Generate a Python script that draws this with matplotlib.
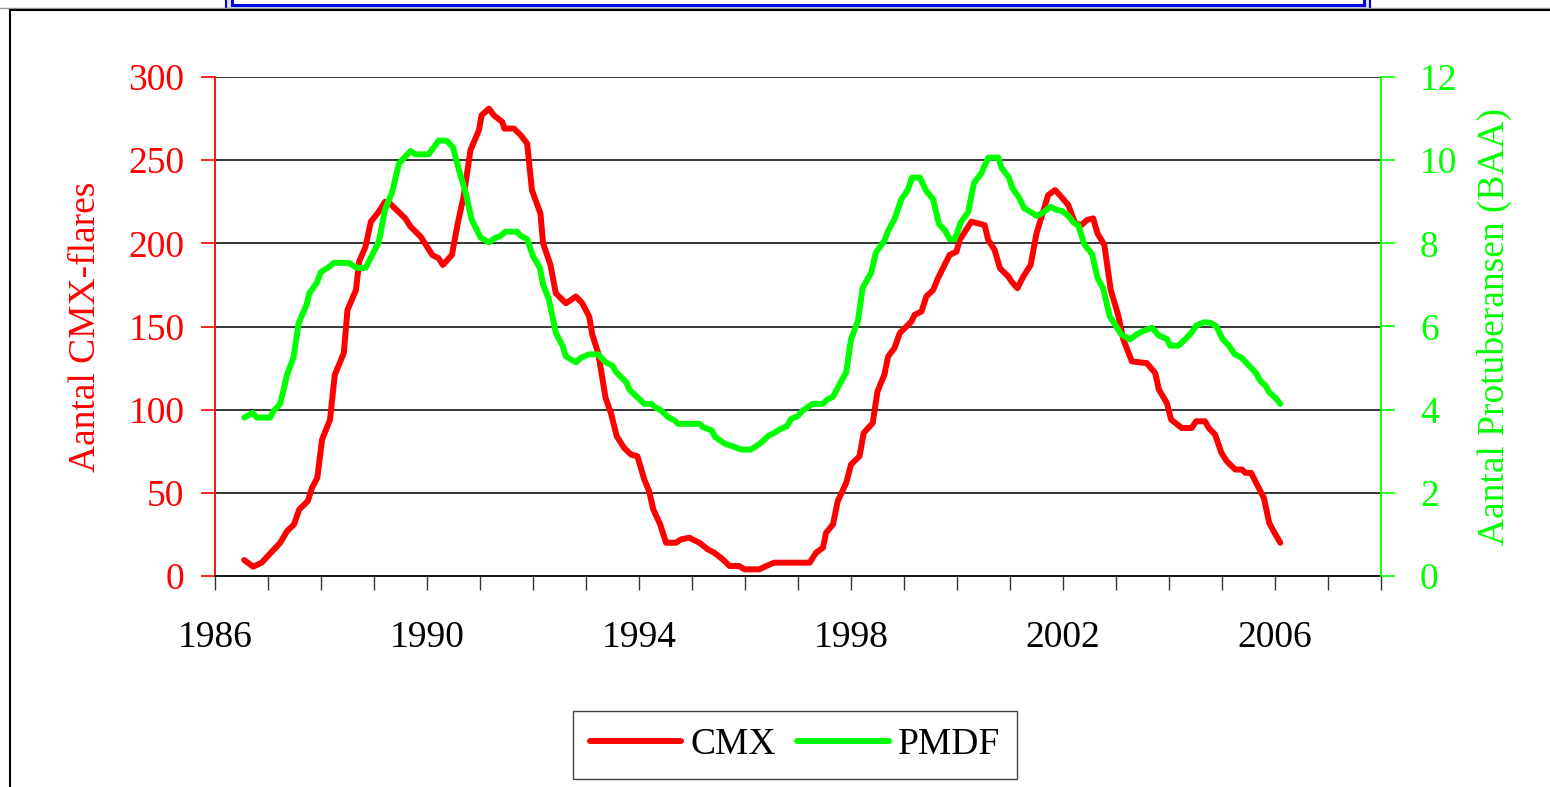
import matplotlib.pyplot as plt
from matplotlib.patches import Rectangle
from matplotlib.lines import Line2D

plt.rcParams['font.family'] = ['Liberation Serif', 'DejaVu Serif']

# CMX flares (left axis)
cmx_year = [1986.55, 1986.72, 1986.88, 1987.23, 1987.36, 1987.49, 1987.59, 1987.75, 1987.83, 1987.93,
            1988.02, 1988.17, 1988.26, 1988.43, 1988.50, 1988.66, 1988.72, 1988.84, 1988.94, 1989.09,
            1989.21, 1989.30, 1989.59, 1989.69, 1989.88, 1990.10, 1990.22, 1990.30, 1990.47, 1990.58,
            1990.69, 1990.82, 1990.98, 1991.03, 1991.17, 1991.26, 1991.42, 1991.46, 1991.64, 1991.77,
            1991.89, 1991.98, 1992.14, 1992.19, 1992.33, 1992.43, 1992.62, 1992.81, 1992.93, 1993.06,
            1993.12, 1993.23, 1993.37, 1993.47, 1993.58, 1993.72, 1993.85, 1993.97, 1994.10, 1994.19,
            1994.27, 1994.40, 1994.51, 1994.70, 1994.79, 1994.95, 1995.14, 1995.30, 1995.42, 1995.58,
            1995.71, 1995.89, 1995.99, 1996.27, 1996.40, 1996.55, 1997.22, 1997.34, 1997.47, 1997.53,
            1997.66, 1997.75, 1997.91, 1998.00, 1998.16, 1998.24, 1998.41, 1998.50, 1998.63, 1998.70,
            1998.82, 1998.92, 1999.14, 1999.20, 1999.33, 1999.42, 1999.55, 1999.64, 1999.86, 1999.99,
            2000.05, 2000.27, 2000.52, 2000.59, 2000.71, 2000.81, 2000.97, 2001.03, 2001.14, 2001.25,
            2001.39, 2001.50, 2001.72, 2001.85, 2001.94, 2002.10, 2002.23, 2002.35, 2002.45, 2002.57,
            2002.65, 2002.78, 2002.90, 2003.04, 2003.14, 2003.30, 2003.58, 2003.74, 2003.81, 2003.96,
            2004.04, 2004.24, 2004.43, 2004.51, 2004.68, 2004.75, 2004.87, 2004.99, 2005.09, 2005.25,
            2005.38, 2005.44, 2005.55, 2005.66, 2005.79, 2005.89, 2005.99, 2006.10]
cmx_val = [9.6, 5.6, 8, 20, 27, 31, 40, 45, 53, 59,
           82, 94, 121, 134, 160, 172, 189, 198, 213, 219,
           225, 224, 215, 210, 204, 193, 191, 187, 193, 212,
           228, 256, 268, 277, 281, 277, 273, 269, 269, 265,
           260, 232, 218, 200, 187, 170, 164, 168, 164, 156,
           145, 134, 107, 98, 84, 77, 73, 72, 58, 51,
           40, 31, 20, 20, 22, 23, 20, 16, 14, 10,
           6, 6, 4, 4, 6, 8, 8, 14, 17, 26,
           31, 45, 56, 67, 72, 86, 92, 111, 121, 132,
           137, 146, 153, 157, 159, 168, 172, 179, 193, 195,
           202, 213, 211, 202, 196, 185, 180, 177, 173, 180,
           187, 206, 229, 232, 229, 223, 212, 211, 214, 215,
           206, 199, 172, 157, 142, 129, 128, 122, 112, 104,
           94, 89, 89, 93, 93, 89, 85, 74, 69, 64,
           64, 62, 62, 55, 47, 32, 26, 20]

# PMDF prominences (right axis)
pmdf_year = [1986.55, 1986.71, 1986.79, 1987.04, 1987.10, 1987.23, 1987.36, 1987.48, 1987.58, 1987.73,
             1987.78, 1987.92, 1988.00, 1988.17, 1988.24, 1988.52, 1988.68, 1988.84, 1989.09, 1989.21,
             1989.34, 1989.47, 1989.69, 1989.78, 1990.03, 1990.22, 1990.37, 1990.49, 1990.60, 1990.73,
             1990.84, 1991.01, 1991.17, 1991.26, 1991.39, 1991.48, 1991.70, 1991.77, 1991.89, 1992.00,
             1992.13, 1992.19, 1992.30, 1992.43, 1992.56, 1992.62, 1992.81, 1992.91, 1993.06, 1993.23,
             1993.37, 1993.50, 1993.57, 1993.76, 1993.82, 1994.10, 1994.23, 1994.33, 1994.42, 1994.55,
             1994.67, 1994.74, 1995.14, 1995.21, 1995.37, 1995.44, 1995.62, 1995.77, 1995.93, 1996.11,
             1996.22, 1996.31, 1996.44, 1996.56, 1996.66, 1996.79, 1996.87, 1996.99, 1997.09, 1997.28,
             1997.47, 1997.55, 1997.66, 1997.78, 1997.91, 1998.00, 1998.13, 1998.22, 1998.38, 1998.47,
             1998.63, 1998.70, 1998.82, 1998.95, 1999.07, 1999.15, 1999.30, 1999.42, 1999.55, 1999.66,
             1999.78, 1999.86, 1999.96, 2000.07, 2000.21, 2000.32, 2000.46, 2000.59, 2000.78, 2000.84,
             2000.98, 2001.04, 2001.17, 2001.27, 2001.41, 2001.50, 2001.63, 2001.76, 2001.89, 2001.98,
             2002.10, 2002.20, 2002.29, 2002.40, 2002.55, 2002.65, 2002.76, 2002.88, 2003.01, 2003.10,
             2003.26, 2003.39, 2003.51, 2003.68, 2003.81, 2003.96, 2004.02, 2004.18, 2004.31, 2004.43,
             2004.51, 2004.66, 2004.78, 2004.89, 2005.01, 2005.13, 2005.24, 2005.37, 2005.51, 2005.64,
             2005.73, 2005.82, 2005.89, 2006.01, 2006.10]
pmdf_val = [3.81, 3.92, 3.81, 3.81, 3.96, 4.14, 4.84, 5.25, 6.09, 6.53,
            6.80, 7.05, 7.31, 7.45, 7.53, 7.53, 7.41, 7.41, 8.03, 8.82,
            9.22, 9.92, 10.22, 10.14, 10.14, 10.47, 10.47, 10.31, 9.78, 9.22,
            8.58, 8.14, 8.02, 8.11, 8.18, 8.28, 8.28, 8.18, 8.10, 7.69,
            7.41, 7.01, 6.65, 5.85, 5.53, 5.28, 5.14, 5.25, 5.33, 5.33,
            5.14, 5.06, 4.90, 4.66, 4.48, 4.14, 4.14, 4.04, 3.98, 3.82,
            3.74, 3.66, 3.66, 3.58, 3.50, 3.34, 3.18, 3.12, 3.04, 3.04,
            3.13, 3.21, 3.37, 3.45, 3.53, 3.60, 3.78, 3.84, 3.98, 4.14,
            4.14, 4.24, 4.31, 4.60, 4.90, 5.69, 6.13, 6.93, 7.29, 7.78,
            8.06, 8.30, 8.58, 9.06, 9.28, 9.58, 9.58, 9.26, 9.06, 8.46,
            8.30, 8.10, 8.10, 8.50, 8.75, 9.45, 9.69, 10.06, 10.06, 9.82,
            9.58, 9.34, 9.10, 8.84, 8.74, 8.66, 8.74, 8.88, 8.80, 8.78,
            8.66, 8.50, 8.43, 7.98, 7.74, 7.17, 6.91, 6.25, 5.99, 5.81,
            5.69, 5.81, 5.89, 5.97, 5.78, 5.70, 5.54, 5.54, 5.70, 5.86,
            6.02, 6.10, 6.09, 6.01, 5.70, 5.54, 5.33, 5.25, 5.06, 4.88,
            4.68, 4.58, 4.42, 4.28, 4.14]

left_ticks = [0, 50, 100, 150, 200, 250, 300]
right_ticks = [0, 2, 4, 6, 8, 10, 12]
year_labels = [1986, 1990, 1994, 1998, 2002, 2006]

W, H = 1550, 787
fig = plt.figure(figsize=(W / 100, H / 100), dpi=100)
ax = fig.add_axes([215 / W, 1 - 576 / H, (1381 - 215) / W, (576 - 77) / H])
ax2 = ax.twinx()

FS = 27
red = '#FF0000'
green = '#00FF00'

l1, = ax.plot(cmx_year, cmx_val, color=red, lw=4.3, solid_joinstyle='round', solid_capstyle='round')
l2, = ax2.plot(pmdf_year, pmdf_val, color=green, lw=4.3, solid_joinstyle='round', solid_capstyle='round')

ax.set_xlim(1986, 2008)
ax.set_ylim(0, 300)
ax2.set_ylim(0, 12)
ax.set_yticks(left_ticks)
ax2.set_yticks(right_ticks)
ax.set_xticks(year_labels)
ax.set_xticklabels([str(y) for y in year_labels])
ax.set_xticks(range(1986, 2009), minor=True)

for y in left_ticks[1:]:
    ax.axhline(y, color='black', lw=1.1, zorder=0.5)

ax.tick_params(axis='y', colors=red, labelsize=FS, length=10, width=1.2, pad=12, direction='out')
ax2.tick_params(axis='y', colors=green, labelsize=FS, length=10, width=1.2, pad=18, direction='out')
ax.tick_params(axis='x', which='both', colors='#333333', labelcolor='black', labelsize=FS,
               length=10, width=1, pad=22, direction='out')

for a in (ax, ax2):
    a.spines['top'].set_visible(False)
    a.spines['left'].set_visible(False)
    a.spines['right'].set_visible(False)
ax.spines['left'].set_visible(True)
ax.spines['left'].set_color(red)
ax.spines['left'].set_linewidth(1.3)
ax2.spines['right'].set_visible(True)
ax2.spines['right'].set_color(green)
ax2.spines['right'].set_linewidth(1.3)
ax.spines['bottom'].set_color('black')
ax.spines['bottom'].set_linewidth(1.3)
ax2.spines['bottom'].set_visible(False)

ax.set_ylabel('Aantal CMX-flares', color=red, fontsize=FS, labelpad=18)
ax2.set_ylabel('Aantal Protuberansen (BAA)', color=green, fontsize=FS, labelpad=14)

fig.legend(handles=[l1, l2], labels=['CMX', 'PMDF'], loc='center',
           bbox_to_anchor=(795 / W, 1 - 745 / H), ncol=2, fontsize=FS,
           frameon=True, fancybox=False, edgecolor='#444444', framealpha=1,
           handlelength=2.45, handletextpad=0.25, columnspacing=0.55, borderpad=0.45)

# chart frame and the bottom of the title box
fig.add_artist(Line2D([0, 1], [1 - 7.5 / H, 1 - 7.5 / H], color='#999999', lw=1))
fig.add_artist(Line2D([10 / W, 1], [1 - 9.5 / H, 1 - 9.5 / H], color='black', lw=1.5))
fig.add_artist(Line2D([10 / W, 10 / W], [0, 1 - 9.5 / H], color='black', lw=1.5))
fig.add_artist(Rectangle((226 / W, 1 - 9 / H), (1370 - 226) / W, 20 / H,
                         facecolor='#DDE4FF', edgecolor='#0000EE', lw=1.5))
fig.add_artist(Rectangle((232 / W, 1 - 5 / H), (1364 - 232) / W, 20 / H,
                         facecolor='white', edgecolor='#0000EE', lw=2.2))

fig.savefig('out.png', dpi=100)
